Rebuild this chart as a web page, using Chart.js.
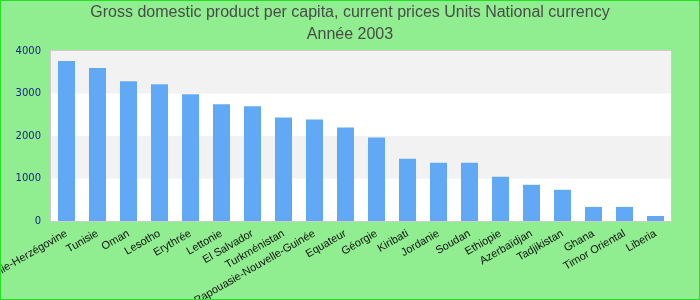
<!DOCTYPE html>
<html>
<head>
<meta charset="utf-8">
<script src="https://cdn.jsdelivr.net/npm/chart.js@4/dist/chart.umd.min.js"></script>
<style>
    html, body { margin: 0; padding: 0; background: #90ee90; }
    #wrap { width: 698px; height: 298px; border: 1px solid #22e022; position: relative; }
</style>
</head>
<body>
<div id="wrap"><canvas id="chart" width="698" height="298"></canvas></div>
<script>
// Data
const countries = [
    'Bosnie-Herzégovine', 'Tunisie', 'Oman', 'Lesotho', 'Erythrée', 'Lettonie',
    'El Salvador', 'Turkménistan', 'Papouasie-Nouvelle-Guinée', 'Equateur', 'Géorgie',
    'Kiribati', 'Jordanie', 'Soudan', 'Ethiopie', 'Azerbaïdjan', 'Tadjikistan',
    'Ghana', 'Timor Oriental', 'Liberia'
];
const gdpValues = [
    3763, 3598, 3290, 3219, 2982, 2746,
    2698, 2438, 2390, 2201, 1964,
    1467, 1373, 1373, 1041, 852, 734,
    331, 331, 118
];
const yTicks = [0, 1000, 2000, 3000, 4000];
const titleLines = [
    'Gross domestic product per capita, current prices Units National currency',
    'Année 2003'
];

// Alternating background bands + plot border
const bandsPlugin = {
    id: 'bands',
    beforeDraw(chart) {
        const { ctx, chartArea, scales } = chart;
        const y = scales.y;
        const left = chartArea.left, right = chartArea.right;
        const top = chartArea.top, bottom = chartArea.bottom;
        ctx.save();
        ctx.fillStyle = '#ffffff';
        ctx.fillRect(left, top, right - left, bottom - top);
        for (let i = 0; i < yTicks.length - 1; i++) {
            if (i % 2 === 1) {
                const t = y.getPixelForValue(yTicks[i + 1]);
                const b = y.getPixelForValue(yTicks[i]);
                ctx.fillStyle = '#f2f2f2';
                ctx.fillRect(left, t, right - left, b - t);
            }
        }
        ctx.strokeStyle = '#cccccc';
        ctx.lineWidth = 1;
        ctx.strokeRect(left - 0.5, top - 0.5, right - left + 1, bottom - top + 1);
        ctx.restore();
    }
};

// Title centred on the whole canvas (the plot has a right margin)
const centredTitle = {
    id: 'centredTitle',
    afterDraw(chart) {
        const ctx = chart.ctx;
        ctx.save();
        ctx.fillStyle = '#4a4a4a';
        ctx.font = '16px "Liberation Sans", Arial, sans-serif';
        ctx.textAlign = 'center';
        ctx.textBaseline = 'middle';
        titleLines.forEach((line, i) => {
            ctx.fillText(line, chart.width / 2, 12 + i * 22);
        });
        ctx.restore();
    }
};

new Chart(document.getElementById('chart').getContext('2d'), {
    type: 'bar',
    data: {
        labels: countries,
        datasets: [{
            data: gdpValues,
            backgroundColor: '#62a9f5',
            barPercentage: 0.55,
            categoryPercentage: 1.0
        }]
    },
    options: {
        responsive: false,
        animation: false,
        layout: { padding: { top: 50, right: 28, left: 0, bottom: 0 } },
        plugins: {
            legend: { display: false },
            tooltip: { enabled: false },
            title: { display: false }
        },
        scales: {
            x: {
                grid: { display: false, drawTicks: false },
                border: { display: false },
                ticks: {
                    autoSkip: false,
                    minRotation: 30,
                    maxRotation: 30,
                    padding: 6,
                    color: '#111111',
                    font: { family: 'Liberation Sans, Arial, sans-serif', size: 11 }
                },
                afterFit(scale) {
                    scale.paddingLeft = 0;
                    scale.paddingRight = 0;
                    scale.height = 78;
                }
            },
            y: {
                min: 0,
                max: 4000,
                grid: { display: false, drawTicks: false },
                border: { display: false },
                afterBuildTicks(scale) {
                    scale.ticks = yTicks.map(v => ({ value: v }));
                },
                ticks: {
                    padding: 10,
                    color: '#1a1a8c',
                    font: { family: 'DejaVu Sans, sans-serif', size: 10 },
                    callback: v => String(v)
                },
                afterFit(scale) {
                    scale.width = 50;
                }
            }
        }
    },
    plugins: [bandsPlugin, centredTitle]
});
</script>
</body>
</html>
